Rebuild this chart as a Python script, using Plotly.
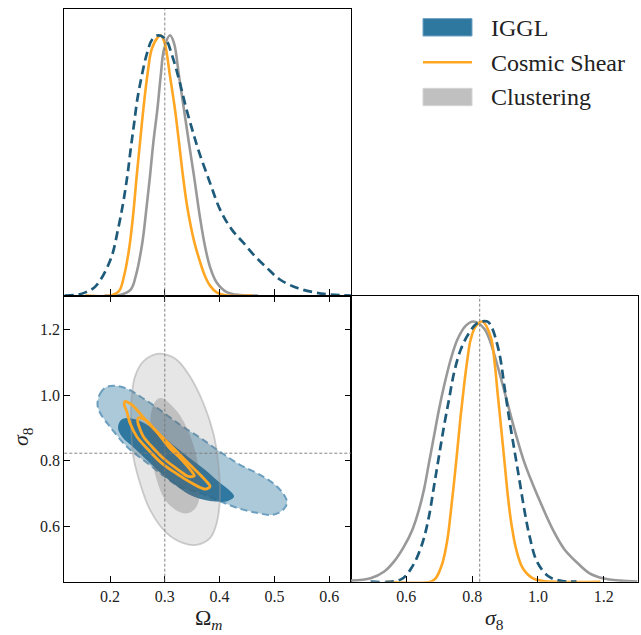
import plotly.graph_objects as go

# ---------------- data ----------------
om_range = [0.1166, 0.6398]
s8_range = [0.432, 1.303]
pdf_range = [0, 1.1]
om_ticks = [0.2, 0.3, 0.4, 0.5, 0.6]
s8_ticks = [0.6, 0.8, 1.0, 1.2]
om_true = 0.3
s8_true = 0.823

# 1D marginal of Omega_m
om_iggl_x = [0.117, 0.140, 0.155, 0.174, 0.201, 0.2146, 0.224, 0.2316, 0.2377, 0.2438, 0.2499,
             0.2578, 0.267, 0.2772, 0.288, 0.3016, 0.3137, 0.326, 0.338, 0.350, 0.3624, 0.3825,
             0.4007, 0.422, 0.4433, 0.4646, 0.486, 0.510, 0.5407, 0.571, 0.6015, 0.6398]
om_iggl_y = [0.0, 0.003, 0.012, 0.036, 0.138, 0.254, 0.356, 0.459, 0.562, 0.658, 0.754,
             0.843, 0.927, 0.985, 1.0, 0.985, 0.92, 0.83, 0.728, 0.638, 0.552, 0.433,
             0.331, 0.254, 0.203, 0.151, 0.107, 0.0615, 0.0296, 0.0128, 0.004, 0.0]

om_cs_x = [0.155, 0.201, 0.2164, 0.2255, 0.2347, 0.242, 0.2487, 0.2547, 0.2608, 0.268, 0.276,
           0.2864, 0.2925, 0.2998, 0.3095, 0.3186, 0.326, 0.3332, 0.341, 0.3533, 0.3642, 0.3733,
           0.3825, 0.3947, 0.413, 0.46]
om_cs_y = [0.0, 0.0, 0.017, 0.074, 0.177, 0.305, 0.459, 0.587, 0.715, 0.843, 0.946,
           0.99, 1.0, 0.97, 0.843, 0.715, 0.587, 0.459, 0.34, 0.21, 0.13, 0.075,
           0.038, 0.012, 0.0, 0.0]

om_cl_x = [0.19, 0.2133, 0.2377, 0.2469, 0.259, 0.2663, 0.273, 0.279, 0.2864, 0.2925, 0.2985,
           0.3095, 0.3168, 0.326, 0.335, 0.344, 0.3533, 0.3642, 0.3733, 0.3825, 0.3947, 0.413,
           0.437, 0.47]
om_cl_y = [0.0, 0.0, 0.023, 0.074, 0.203, 0.331, 0.459, 0.587, 0.715, 0.843, 0.946,
           1.0, 0.97, 0.843, 0.715, 0.587, 0.459, 0.30, 0.19, 0.11, 0.05, 0.013,
           0.0015, 0.0]

# 1D marginal of sigma_8
s8_iggl_x = [0.4915, 0.5839, 0.6182, 0.6486, 0.6687, 0.6839, 0.699, 0.7143, 0.7295, 0.7447,
             0.765, 0.7903, 0.8158, 0.8462, 0.8584, 0.8815, 0.8988, 0.914, 0.9292, 0.9444,
             0.9596, 0.9748, 0.997, 1.0305, 1.066, 1.117]
s8_iggl_y = [0.0, 0.009, 0.058, 0.147, 0.25, 0.365, 0.481, 0.596, 0.699, 0.801,
             0.891, 0.955, 0.994, 1.0, 0.981, 0.885, 0.744, 0.615, 0.5, 0.385,
             0.269, 0.173, 0.077, 0.022, 0.004, 0.0]

s8_cs_x = [0.539, 0.6739, 0.689, 0.7094, 0.7246, 0.7347, 0.7447, 0.755, 0.765, 0.7751, 0.7854,
           0.7954, 0.8106, 0.831, 0.8562, 0.8684, 0.8784, 0.8888, 0.8988, 0.9088, 0.9191,
           0.9343, 0.9544, 0.9848, 1.015, 1.19]
s8_cs_y = [0.0, 0.0, 0.013, 0.07, 0.16, 0.263, 0.378, 0.506, 0.635, 0.75, 0.853,
           0.93, 0.981, 1.0, 0.942, 0.84, 0.712, 0.583, 0.455, 0.327, 0.224,
           0.122, 0.051, 0.013, 0.003, 0.0]

s8_cl_x = [0.4307, 0.4915, 0.532, 0.5624, 0.5928, 0.6182, 0.6383, 0.6535, 0.6687, 0.6839,
           0.699, 0.7143, 0.7347, 0.755, 0.7802, 0.8036, 0.8359, 0.853, 0.8836, 0.9292,
           0.9596, 1.0, 1.0456, 1.08, 1.1216, 1.157, 1.197, 1.25, 1.302]
s8_cl_y = [0.004, 0.013, 0.038, 0.077, 0.135, 0.199, 0.276, 0.353, 0.455, 0.558,
           0.66, 0.75, 0.853, 0.93, 0.983, 1.0, 0.974, 0.93, 0.80, 0.583,
           0.455, 0.327, 0.199, 0.125, 0.07, 0.032, 0.013, 0.004, 0.001]

# 2D contours (Omega_m, sigma_8)
cl95_om = [0.2852, 0.2608, 0.2456, 0.2396, 0.2383, 0.2425, 0.2547, 0.273, 0.3035, 0.3338,
           0.3582, 0.3825, 0.3947, 0.4007, 0.3976, 0.3885, 0.3703, 0.346, 0.3217, 0.2973]
cl95_s8 = [1.125, 1.1025, 1.0568, 0.9959, 0.9148, 0.8131, 0.7321, 0.6507, 0.5798, 0.5493,
           0.5441, 0.5645, 0.6102, 0.6913, 0.793, 0.8844, 0.9758, 1.0568, 1.1076, 1.125]

cl68_om = [0.2943, 0.3246, 0.3491, 0.3611, 0.3642, 0.3582, 0.3429, 0.3246, 0.3004, 0.2852,
           0.2761, 0.273, 0.2761, 0.2852]
cl68_s8 = [0.991, 0.9453, 0.864, 0.7826, 0.7117, 0.6608, 0.6407, 0.6456, 0.6812, 0.7421,
           0.8131, 0.8944, 0.9553, 0.9858]

ig95_om = [0.1772, 0.1818, 0.1927, 0.2091, 0.2328, 0.2584, 0.2821, 0.3277, 0.3642, 0.4007,
           0.4372, 0.4737, 0.5011, 0.5175, 0.523, 0.5157, 0.4974, 0.4682, 0.4318, 0.3953,
           0.3642, 0.3277, 0.3004, 0.2675, 0.231, 0.2, 0.1818]
ig95_s8 = [0.9706, 1.0041, 1.0239, 1.0284, 1.0178, 0.9919, 0.9654, 0.9097, 0.8701, 0.8274,
           0.7878, 0.7574, 0.7269, 0.6964, 0.6721, 0.6507, 0.6355, 0.6416, 0.6568, 0.6812,
           0.7025, 0.7208, 0.7513, 0.7939, 0.8426, 0.9036, 0.9462]

ig68_om = [0.2146, 0.2201, 0.2328, 0.2547, 0.2821, 0.3131, 0.3423, 0.3734, 0.4007, 0.4208,
           0.4263, 0.4153, 0.3825, 0.346, 0.3186, 0.2821, 0.2456, 0.2219]
ig68_s8 = [0.8995, 0.9239, 0.93, 0.9208, 0.8937, 0.8514, 0.8123, 0.7726, 0.733, 0.7056,
           0.6904, 0.6778, 0.6778, 0.6961, 0.7269, 0.7787, 0.8366, 0.8733]

cs95_om = [0.2274, 0.2396, 0.2516, 0.2699, 0.2943, 0.3246, 0.3551, 0.3734, 0.3825, 0.3734,
           0.3491, 0.3246, 0.2943, 0.2699, 0.2487, 0.2365, 0.2305, 0.2261]
cs95_s8 = [0.9806, 0.9706, 0.9502, 0.9148, 0.874, 0.8235, 0.7726, 0.7421, 0.7217, 0.7138,
           0.7321, 0.7574, 0.793, 0.8335, 0.874, 0.9148, 0.9502, 0.9706]

cs68_om = [0.2516, 0.2639, 0.2821, 0.3064, 0.3308, 0.3491, 0.3538, 0.3429, 0.3246, 0.3004,
           0.2761, 0.2608, 0.2529, 0.2505]
cs68_s8 = [0.9301, 0.9249, 0.8944, 0.8436, 0.803, 0.7674, 0.7543, 0.7522, 0.7726, 0.803,
           0.8436, 0.874, 0.9045, 0.9197]

legend_labels = ["IGGL", "Cosmic Shear", "Clustering"]

# ---------------- styles ----------------
C_IGGL_LINE = "#1e5b7b"
C_IGGL = "#2e78a0"
C_CS = "#ffa623"
C_CL_LINE = "#999999"
FONT = "Liberation Serif"
W, H = 641, 635
SM = 1.0


def closed(a):
    return list(a) + [a[0]]


fig = go.Figure()

# ---- 1D Omega_m (top-left) ----
fig.add_trace(go.Scatter(x=om_cl_x, y=om_cl_y, mode="lines", xaxis="x", yaxis="y",
                         line=dict(color=C_CL_LINE, width=2.6, shape="spline", smoothing=SM)))
fig.add_trace(go.Scatter(x=om_cs_x, y=om_cs_y, mode="lines", xaxis="x", yaxis="y",
                         line=dict(color=C_CS, width=2.6, shape="spline", smoothing=SM)))
fig.add_trace(go.Scatter(x=om_iggl_x, y=om_iggl_y, mode="lines", xaxis="x", yaxis="y",
                         line=dict(color=C_IGGL_LINE, width=2.7, dash="9px,5px",
                                   shape="spline", smoothing=SM)))

# ---- 2D (bottom-left) ----
fig.add_trace(go.Scatter(x=closed(ig95_om), y=closed(ig95_s8), mode="lines", fill="toself",
                         xaxis="x2", yaxis="y2", fillcolor="rgba(46,120,160,0.40)",
                         line=dict(color="#6c9fbf", width=2, dash="7px,4px",
                                   shape="spline", smoothing=1)))
fig.add_trace(go.Scatter(x=closed(ig68_om), y=closed(ig68_s8), mode="lines", fill="toself",
                         xaxis="x2", yaxis="y2", fillcolor="rgba(24,106,150,0.85)",
                         line=dict(color="rgba(0,0,0,0)", width=0, shape="spline", smoothing=1)))
fig.add_trace(go.Scatter(x=closed(cl95_om), y=closed(cl95_s8), mode="lines", fill="toself",
                         xaxis="x2", yaxis="y2", fillcolor="rgba(100,100,100,0.16)",
                         line=dict(color="rgba(150,150,150,0.45)", width=1.8,
                                   shape="spline", smoothing=1)))
fig.add_trace(go.Scatter(x=closed(cl68_om), y=closed(cl68_s8), mode="lines", fill="toself",
                         xaxis="x2", yaxis="y2", fillcolor="rgba(100,100,100,0.29)",
                         line=dict(color="rgba(0,0,0,0)", width=0, shape="spline", smoothing=1)))
fig.add_trace(go.Scatter(x=closed(cs95_om), y=closed(cs95_s8), mode="lines",
                         xaxis="x2", yaxis="y2",
                         line=dict(color=C_CS, width=2.8, shape="spline", smoothing=1)))
fig.add_trace(go.Scatter(x=closed(cs68_om), y=closed(cs68_s8), mode="lines",
                         xaxis="x2", yaxis="y2",
                         line=dict(color=C_CS, width=2.8, shape="spline", smoothing=1)))

# ---- 1D sigma_8 (bottom-right) ----
fig.add_trace(go.Scatter(x=s8_cl_x, y=s8_cl_y, mode="lines", xaxis="x3", yaxis="y3",
                         line=dict(color=C_CL_LINE, width=2.6, shape="spline", smoothing=SM)))
fig.add_trace(go.Scatter(x=s8_cs_x, y=s8_cs_y, mode="lines", xaxis="x3", yaxis="y3",
                         line=dict(color=C_CS, width=2.6, shape="spline", smoothing=SM)))
fig.add_trace(go.Scatter(x=s8_iggl_x, y=s8_iggl_y, mode="lines", xaxis="x3", yaxis="y3",
                         line=dict(color=C_IGGL_LINE, width=2.7, dash="9px,5px",
                                   shape="spline", smoothing=SM)))

# ---- axes ----
xl, xm, xr = 64.3 / W, 351 / W, 637.7 / W
yt, ym, yb = 1 - 9.3 / H, 1 - 295.5 / H, 1 - 581.7 / H

tickfont = dict(family=FONT, size=16, color="#222")
common = dict(showgrid=False, zeroline=False, showline=True, linecolor="black",
              linewidth=1.3, ticklen=6, tickwidth=1, tickcolor="black", tickfont=tickfont)

fig.update_layout(
    xaxis=dict(domain=[xl, xm], anchor="y", range=om_range, tickvals=om_ticks,
               ticks="inside", showticklabels=False, mirror=True, **common),
    yaxis=dict(domain=[ym, yt], anchor="x", range=pdf_range, ticks="",
               showticklabels=False, mirror=True, **common),
    xaxis2=dict(domain=[xl, xm], anchor="y2", range=om_range, tickvals=om_ticks,
                ticktext=[f"{v:.1f}" for v in om_ticks], ticks="inside", mirror="ticks", **common),
    yaxis2=dict(domain=[yb, ym], anchor="x2", range=s8_range, tickvals=s8_ticks,
                ticktext=[f"{v:.1f}" for v in s8_ticks], ticks="inside", mirror="ticks", **common),
    xaxis3=dict(domain=[xm, xr], anchor="y3", range=s8_range, tickvals=s8_ticks,
                ticktext=[f"{v:.1f}" for v in s8_ticks], ticks="inside", mirror=True, **common),
    yaxis3=dict(domain=[yb, ym], anchor="x3", range=pdf_range, ticks="",
                showticklabels=False, mirror=True, **common),
)

# truth lines
truth = dict(color="#777777", width=0.9, dash="3px,2px")
shapes = [
    dict(type="line", xref="x", yref="y domain", x0=om_true, x1=om_true, y0=0, y1=1, line=truth),
    dict(type="line", xref="x2", yref="y2 domain", x0=om_true, x1=om_true, y0=0, y1=1, line=truth),
    dict(type="line", xref="x2 domain", yref="y2", x0=0, x1=1, y0=s8_true, y1=s8_true, line=truth),
    dict(type="line", xref="x3", yref="y3 domain", x0=s8_true, x1=s8_true, y0=0, y1=1, line=truth),
]

# legend (manual)
lx0, lx1 = 423 / W, 472 / W
shapes += [
    dict(type="rect", xref="paper", yref="paper", x0=lx0, x1=lx1, y0=1 - 36 / H, y1=1 - 18.6 / H,
         fillcolor=C_IGGL, line=dict(color="#6fa3c3", width=1)),
    dict(type="line", xref="paper", yref="paper", x0=lx0, x1=lx1, y0=1 - 62.3 / H, y1=1 - 62.3 / H,
         line=dict(color=C_CS, width=2.6)),
    dict(type="rect", xref="paper", yref="paper", x0=lx0, x1=lx1, y0=1 - 105.7 / H, y1=1 - 88.3 / H,
         fillcolor="#c0c0c0", line=dict(color="#d4d4d4", width=1)),
]
annotations = []
for lab, py in zip(legend_labels, [28, 62.5, 97]):
    annotations.append(dict(text=lab, xref="paper", yref="paper", x=489 / W, y=1 - py / H,
                            xanchor="left", yanchor="middle", showarrow=False,
                            font=dict(family=FONT, size=24, color="#222")))

labfont = dict(family=FONT, size=22, color="#222")
annotations += [
    dict(text="Ω<sub><i>m</i></sub>", xref="paper", yref="paper", x=208 / W, y=1 - 619 / H,
         xanchor="center", yanchor="middle", showarrow=False, font=labfont),
    dict(text="<i>σ</i><sub>8</sub>", xref="paper", yref="paper", x=494 / W, y=1 - 619 / H,
         xanchor="center", yanchor="middle", showarrow=False, font=labfont),
    dict(text="<i>σ</i><sub>8</sub>", xref="paper", yref="paper", x=22 / W, y=1 - 437 / H,
         xanchor="center", yanchor="middle", showarrow=False, font=labfont, textangle=-90),
]

fig.update_layout(width=W, height=H, margin=dict(l=0, r=0, t=0, b=0),
                  paper_bgcolor="white", plot_bgcolor="white", showlegend=False,
                  shapes=shapes, annotations=annotations)

fig.write_html("out.html")
